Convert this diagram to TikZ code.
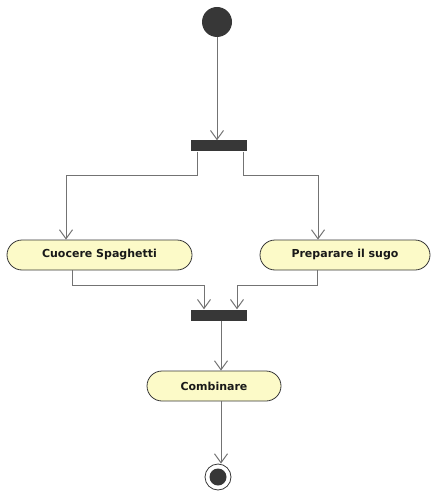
\documentclass[tikz,border=0pt]{standalone}
\usepackage{fontspec}
\setmainfont{DejaVu Sans}
\usetikzlibrary{arrows.meta,shapes.misc}
\definecolor{actfill}{RGB}{252,250,200}
\definecolor{barcol}{RGB}{55,55,55}
\definecolor{edgecol}{RGB}{115,115,115}
\definecolor{textcol}{RGB}{25,25,25}
\tikzset{
  activity/.style={rounded rectangle, draw=barcol, line width=0.8pt, fill=actfill,
    minimum height=30pt, inner xsep=0pt, text=textcol, font=\bfseries\fontsize{11}{13}\selectfont},
  syncbar/.style={rectangle, fill=barcol, draw=none, minimum width=56pt, minimum height=11pt, inner sep=0pt},
  flow/.style={draw=edgecol, line width=1pt, -{Straight Barb[length=9pt,width=13pt,line width=1pt]}},
  plain/.style={draw=edgecol, line width=1pt}
}
\begin{document}
\begin{tikzpicture}[x=1pt,y=-1pt]
  \useasboundingbox (0,0) rectangle (432,497);
  % initial and final states
  \node[circle, fill=barcol, minimum size=30pt, inner sep=0pt] (start) at (217,22) {};
  \node[circle, draw=barcol, line width=0.8pt, fill=white, minimum size=26pt, inner sep=0pt] (stop) at (218,477) {};
  \node[circle, fill=barcol, minimum size=17pt, inner sep=0pt] (stopdot) at (218,477) {};
  % fork and join bars
  \node[syncbar] (fork) at (219,146) {};
  \node[syncbar] (join) at (219,315) {};
  % activities
  \node[activity, minimum width=185pt] (cook) at (99.5,255) {Cuocere Spaghetti};
  \node[activity, minimum width=170pt] (sauce) at (345,255) {Preparare il sugo};
  \node[activity, minimum width=134pt] (comb) at (214,386) {Combinare};
  % bends
  \coordinate (fl) at (197,175);
  \coordinate (fr) at (243,175);
  \coordinate (cl) at (72,285);
  \coordinate (cr) at (317,285);
  % connectors
  \draw[flow] (start) -- (start.center |- fork.north);
  \draw[flow] (fork.south -| fl) -- (fl) -| (cook.north -| 66,0);
  \draw[flow] (fork.south -| fr) -- (fr) -| (sauce.north -| 318,0);
  \draw[flow] (cook.south -| cl) -- (cl) -| (join.north -| 204,0);
  \draw[flow] (sauce.south -| cr) -- (cr) -| (join.north -| 237,0);
  \draw[flow] (join.south -| 221,0) -- (comb.north -| 221,0);
  \draw[flow] (comb.south -| 221,0) -- (stop.north -| 221,0);
\end{tikzpicture}
\end{document}
